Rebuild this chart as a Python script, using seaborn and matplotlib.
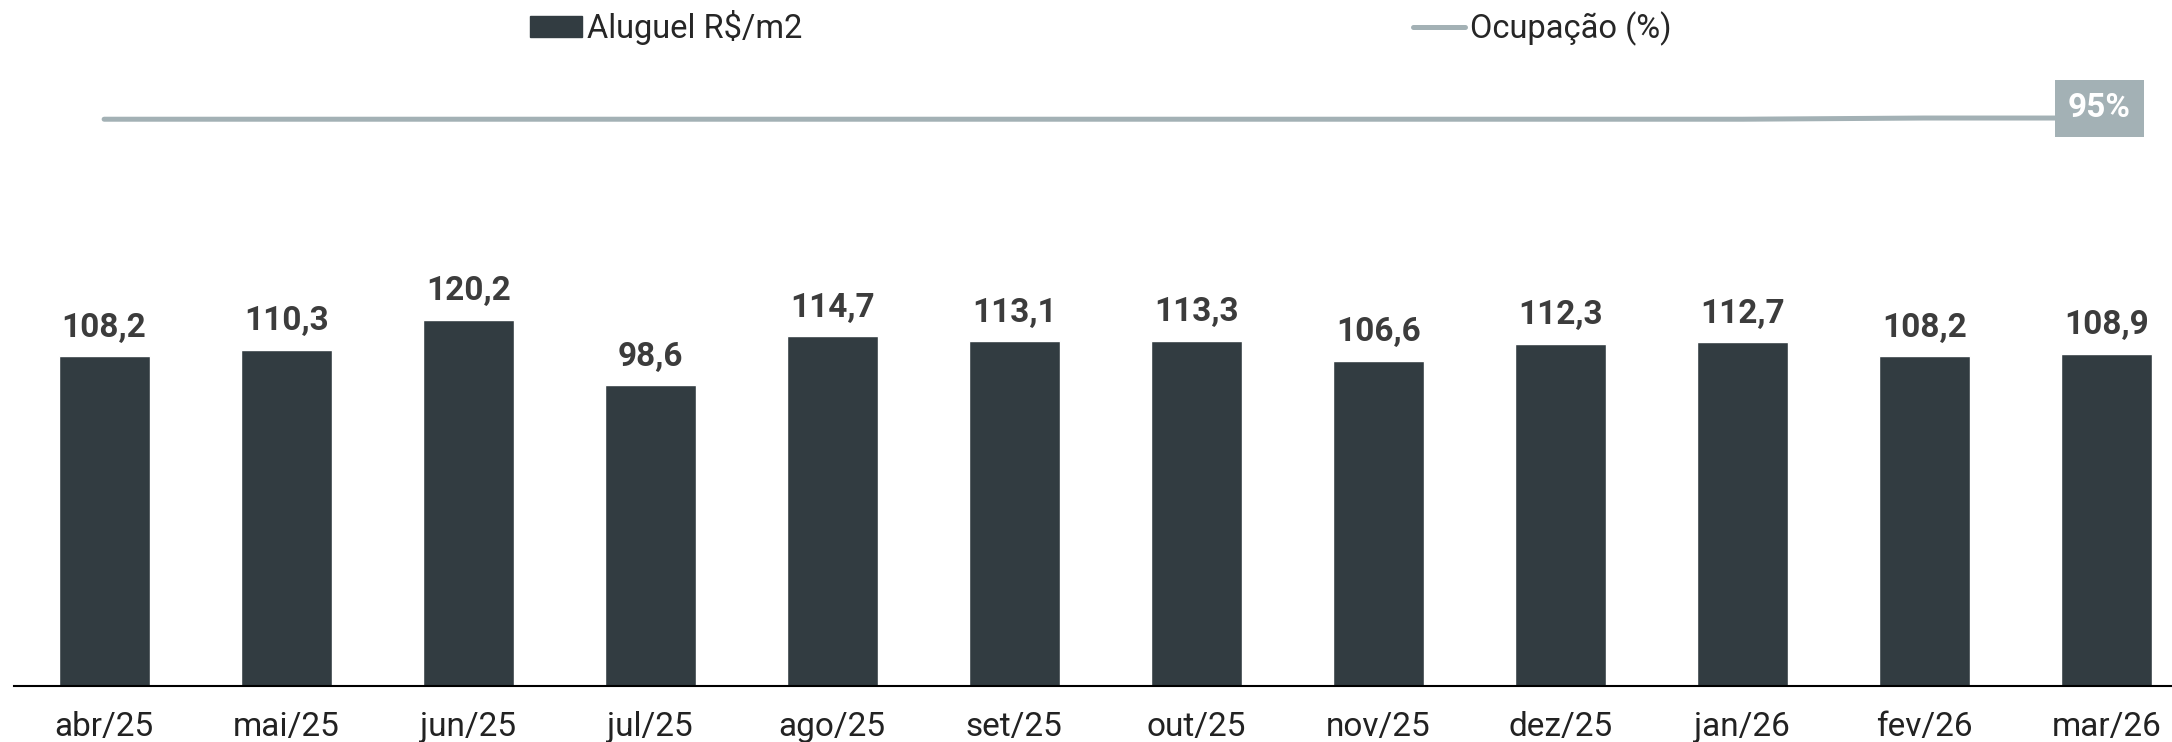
import numpy as np
import matplotlib
matplotlib.use("Agg")
import matplotlib.pyplot as plt
import matplotlib.patches as mpatches
import matplotlib.lines as mlines
import seaborn as sns
import pandas as pd

months = ["abr/25", "mai/25", "jun/25", "jul/25", "ago/25", "set/25",
          "out/25", "nov/25", "dez/25", "jan/26", "fev/26", "mar/26"]
aluguel = [108.2, 110.3, 120.2, 98.6, 114.7, 113.1,
           113.3, 106.6, 112.3, 112.7, 108.2, 108.9]
ocupacao = [94.6, 94.6, 94.6, 94.6, 94.6, 94.6,
            94.6, 94.6, 94.6, 94.6, 94.8, 94.8]

bar_color = "#323c41"
line_color = "#a3b1b5"
label_color = "#3c3c3c"

sns.set_theme(style="white")
plt.rcParams["font.family"] = ["Roboto", "DejaVu Sans"]

df = pd.DataFrame({"mes": months, "aluguel": aluguel, "ocupacao": ocupacao})
df["pos"] = np.arange(len(df))

fig = plt.figure(figsize=(21.72, 7.42), dpi=100)
ax = fig.add_axes([14 / 2172, 56 / 742, 1 - 14 / 2172, 686 / 742])

sns.barplot(x="mes", y="aluguel", data=df, color=bar_color, width=0.5,
            saturation=1, ax=ax)
ax.bar_label(ax.containers[0], labels=[f"{v:.1f}".replace(".", ",") for v in aluguel],
             padding=9, fontsize=24, fontweight="bold", color=label_color)
ax.set_ylim(0, 225)
ax.set_xlim(-0.495, 11.36)
ax.set_xlabel("")
ax.set_ylabel("")
ax.set_yticks([])
ax.tick_params(axis="x", length=0, pad=18, labelsize=24, labelcolor="#222222")
for s in ["top", "right", "left"]:
    ax.spines[s].set_visible(False)
ax.spines["bottom"].set_color("black")
ax.spines["bottom"].set_linewidth(1.5)

ax2 = ax.twinx()
sns.lineplot(x="pos", y="ocupacao", data=df, color=line_color, linewidth=3.6,
             solid_capstyle="round", ax=ax2)
ax2.set_ylim(0, 114.5)
ax2.set_yticks([])
ax2.set_ylabel("")
ax2.set_xlabel("")
for s in ["top", "right", "left", "bottom"]:
    ax2.spines[s].set_visible(False)
ax2.set_xlim(-0.495, 11.36)

ax2.annotate(f"{round(ocupacao[-1]):d}%", xy=(df["pos"].iloc[-1], ocupacao[-1]),
             xytext=(-5, 7), textcoords="offset points", ha="center", va="center",
             fontsize=24, fontweight="bold", color="white",
             bbox=dict(boxstyle="square,pad=0.38", fc=line_color, ec="none"))

handles = [mpatches.Patch(color=bar_color, label="Aluguel R$/m2"),
           mlines.Line2D([], [], color=line_color, linewidth=3.6,
                         solid_capstyle="round", label="Ocupação (%)")]
fig.legend(handles=handles, loc="center left", bbox_to_anchor=(530 / 2172, 1 - 28 / 742),
           ncol=2, frameon=False, fontsize=23.5, handlelength=1.6, handleheight=0.62,
           handletextpad=0.15, columnspacing=18.7, borderpad=0, borderaxespad=0)

fig.savefig("out.png", dpi=100)
